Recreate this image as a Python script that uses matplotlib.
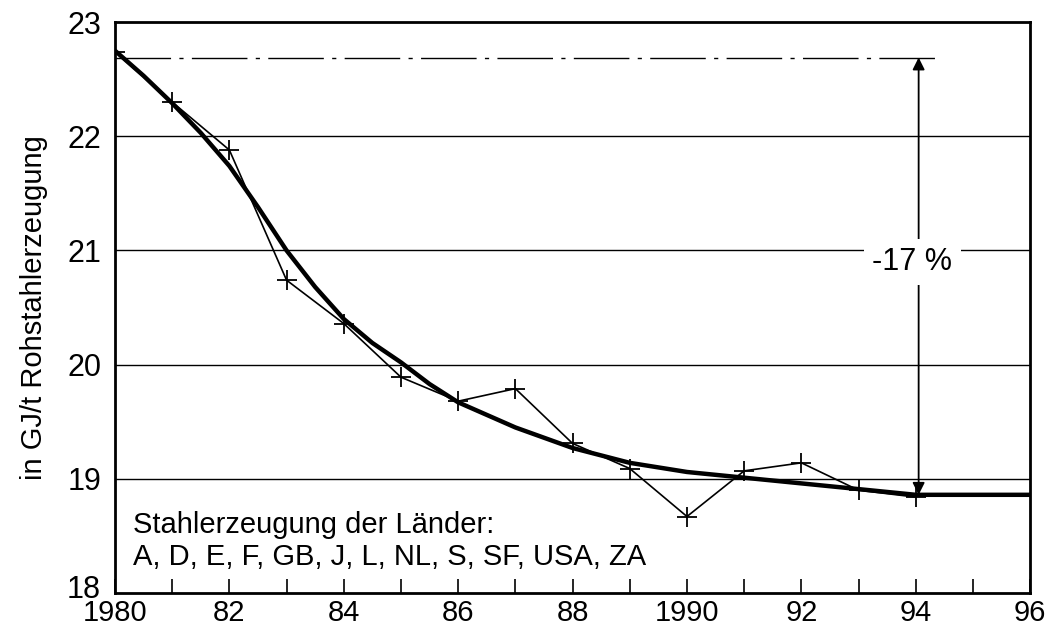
import matplotlib.pyplot as plt
from matplotlib.transforms import ScaledTranslation

plt.rcParams['font.family'] = ['Liberation Sans', 'DejaVu Sans']

# Messwerte (Jahr, GJ/t)
years = [1980, 1981, 1982, 1983, 1984, 1985, 1986, 1987, 1988, 1989, 1990, 1991, 1992, 1993, 1994]
values = [22.74, 22.30, 21.88, 20.74, 20.36, 19.89, 19.68, 19.79, 19.31, 19.09, 18.67, 19.07, 19.14, 18.90, 18.84]

# Ausgleichskurve
trend_x = [1980, 1980.5, 1981, 1981.5, 1982, 1982.5, 1983, 1983.5, 1984, 1984.5, 1985, 1985.5,
           1986, 1987, 1988, 1989, 1990, 1991, 1992, 1993, 1994, 1996]
trend_y = [22.75, 22.53, 22.29, 22.03, 21.74, 21.38, 21.00, 20.68, 20.40, 20.19, 20.02, 19.83,
           19.67, 19.45, 19.27, 19.14, 19.06, 19.01, 18.96, 18.91, 18.86, 18.86]

start_level = 22.69
end_level = 18.86
arrow_year = 1994.05
label = "-17 %"

xticks = [1980, 1982, 1984, 1986, 1988, 1990, 1992, 1994, 1996]
xticklabels = ["1980", "82", "84", "86", "88", "1990", "92", "94", "96"]
yticks = [18, 19, 20, 21, 22, 23]

fig = plt.figure(figsize=(10.48, 6.32), dpi=100)
ax = fig.add_axes([0.1097, 0.0617, 0.8733, 0.9033])
ax.set_xlim(1980, 1996)
ax.set_ylim(18, 23)

# Gitter
for y in yticks[1:-1]:
    ax.axhline(y, color='black', lw=1.0, zorder=1)

# Referenzlinie strich-punkt
ax.plot([1980, 1994.45], [start_level, start_level], color='black', lw=1.0,
        dashes=(40, 6, 3, 6), zorder=2)

# Pfeil
ax.annotate('', xy=(arrow_year, end_level), xytext=(arrow_year, start_level),
            arrowprops=dict(arrowstyle='<|-|>', color='black', lw=1.3,
                            mutation_scale=18, shrinkA=0, shrinkB=0), zorder=3)
ax.text(1993.94, 20.90, label, fontsize=22, ha='center', va='center',
        bbox=dict(facecolor='white', edgecolor='none', pad=6), zorder=4)

# Kurven
ax.plot(trend_x, trend_y, color='black', lw=3.2, zorder=5, solid_capstyle='butt')
ax.plot(years, values, color='black', lw=1.2, marker='+', markersize=14,
        markeredgewidth=1.3, zorder=6)

ax.text(1980.31, 18.595, "Stahlerzeugung der Länder:", fontsize=21, ha='left', va='center')
ax.text(1980.31, 18.315, "A, D, E, F, GB, J, L, NL, S, SF, USA, ZA", fontsize=21,
        ha='left', va='center')

ax.set_xticks(xticks)
ax.set_xticklabels(xticklabels, fontsize=21)
ax.set_xticks(range(1980, 1997), minor=True)
ax.tick_params(axis='x', which='both', direction='in', length=10, width=1.2, pad=4)
ax.set_yticks(yticks)
ax.set_yticklabels([str(y) for y in yticks], fontsize=22)
ax.tick_params(axis='y', length=0, pad=10)
ax.set_ylabel("in GJ/t Rohstahlerzeugung", fontsize=21, labelpad=14)

# "18" etwas anheben, damit es nicht auf "1980" sitzt
lab18 = ax.get_yticklabels()[0]
lab18.set_transform(lab18.get_transform() + ScaledTranslation(0, 5 / 72, fig.dpi_scale_trans))

for s in ax.spines.values():
    s.set_linewidth(2)

fig.savefig('out.png', dpi=100)
